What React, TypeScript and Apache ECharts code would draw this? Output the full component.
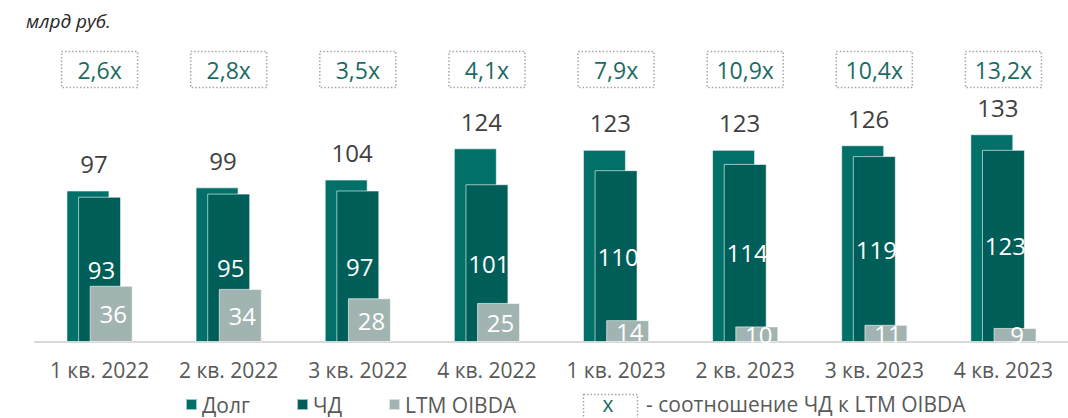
import React, { useEffect, useRef } from "react";
import * as echarts from "echarts";

const categories = [
  "1 кв. 2022",
  "2 кв. 2022",
  "3 кв. 2022",
  "4 кв. 2022",
  "1 кв. 2023",
  "2 кв. 2023",
  "3 кв. 2023",
  "4 кв. 2023",
];
const debt = [97, 99, 104, 124, 123, 123, 126, 133];
const netDebt = [93, 95, 97, 101, 110, 114, 119, 123];
const ltmOibda = [36, 34, 28, 25, 14, 10, 11, 9];
const ratios = ["2,6x", "2,8x", "3,5x", "4,1x", "7,9x", "10,9x", "10,4x", "13,2x"];

const FONT = "'Open Sans', 'Noto Sans', sans-serif";
const C_DEBT = "#007068";
const C_ND = "#005e58";
const C_OIBDA = "#a2b4b1";
const C_TEAL_TEXT = "#1b6b63";

export default function App() {
  const ref = useRef<HTMLDivElement>(null);

  useEffect(() => {
    if (!ref.current) return;
    const chart = echarts.init(ref.current, null, { renderer: "svg" });
    const barBorder = { borderColor: "rgba(255,255,255,0.6)", borderWidth: 1 };
    const option = {
      animation: false,
      textStyle: { fontFamily: FONT },
      title: {
        text: "млрд руб.",
        left: 21,
        top: 6,
        textStyle: {
          fontFamily: FONT,
          fontStyle: "italic",
          fontWeight: "normal",
          fontSize: 19,
          color: "#262626",
        },
      },
      grid: { left: 35, right: -10, top: 29.6, bottom: 76 },
      legend: {
        left: 185,
        top: 394,
        padding: 0,
        icon: "rect",
        itemWidth: 11,
        itemHeight: 11,
        itemGap: 46,
        data: ["Долг", "ЧД", "LTM OIBDA"],
        textStyle: { fontFamily: FONT, color: "#595959", fontSize: 21, lineHeight: 20 },
      },
      xAxis: [
        {
          type: "category",
          data: categories,
          axisLine: { lineStyle: { color: "#d9d9d9", width: 2 } },
          axisTick: { show: false },
          axisLabel: { color: "#595959", fontSize: 21, margin: 17, interval: 0, fontFamily: FONT },
        },
        {
          type: "category",
          position: "top",
          data: ratios,
          axisLine: { show: false },
          axisTick: { show: false },
          axisLabel: {
            inside: true,
            margin: 22,
            interval: 0,
            color: C_TEAL_TEXT,
            fontFamily: FONT,
            fontSize: 23,
            width: 66,
            height: 26,
            lineHeight: 26,
            align: "center",
            padding: [5, 5],
            borderColor: "#a6a6a6",
            borderWidth: 1.5,
            borderType: [1.5, 2],
          },
        },
      ],
      yAxis: { type: "value", min: 0, max: 200, show: false },
      series: [
        {
          name: "Долг",
          type: "bar",
          data: debt,
          barWidth: 43,
          barGap: "-73%",
          itemStyle: { color: C_DEBT, ...barBorder },
          label: {
            show: true,
            position: "top",
            distance: 15,
            offset: [6, 0],
            color: "#404040",
            fontSize: 24,
            lineHeight: 24,
            fontFamily: FONT,
          },
        },
        {
          name: "ЧД",
          type: "bar",
          data: netDebt,
          barWidth: 43,
          barGap: "-73%",
          itemStyle: { color: C_ND, ...barBorder },
          label: {
            show: true,
            position: "inside",
            offset: [2, 0],
            color: "#ffffff",
            fontSize: 24,
            lineHeight: 24,
            fontFamily: FONT,
          },
        },
        {
          name: "LTM OIBDA",
          type: "bar",
          data: ltmOibda,
          barWidth: 43,
          barGap: "-73%",
          itemStyle: { color: C_OIBDA, ...barBorder },
          label: {
            show: true,
            position: "inside",
            offset: [2, 0],
            color: "#ffffff",
            fontSize: 24,
            lineHeight: 24,
            fontFamily: FONT,
          },
        },
      ],
      graphic: [
        {
          type: "rect",
          left: 581,
          top: 392,
          shape: { width: 54, height: 34 },
          style: { fill: "none", stroke: "#a6a6a6", lineWidth: 1.5, lineDash: [1.5, 2] },
        },
        {
          type: "text",
          x: 608,
          y: 404,
          style: {
            text: "x",
            fill: C_TEAL_TEXT,
            fontSize: 21,
            fontFamily: FONT,
            align: "center",
            verticalAlign: "middle",
          },
        },
        {
          type: "text",
          x: 646,
          y: 404,
          style: {
            text: "- соотношение ЧД к LTM OIBDA",
            fill: "#595959",
            fontSize: 21,
            fontFamily: FONT,
            align: "left",
            verticalAlign: "middle",
          },
        },
      ],
    };
    chart.setOption(option as any);
    return () => chart.dispose();
  }, []);

  return (
    <div
      ref={ref}
      style={{ position: "absolute", left: 0, top: 0, width: 1068, height: 418 }}
    />
  );
}
